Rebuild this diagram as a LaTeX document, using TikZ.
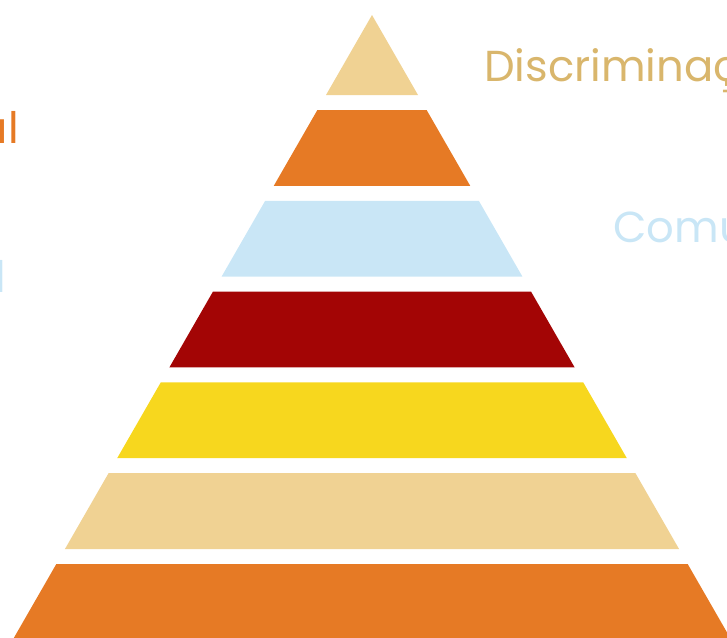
\documentclass[tikz,border=0pt]{standalone}
\usepackage{fontspec}
\usepackage{xcolor}
\usepackage{tikz}
\usetikzlibrary{positioning,calc}
\newfontfamily\popfont{Poppins}
\definecolor{PyrGold}{RGB}{240,210,147}
\definecolor{PyrOrange}{RGB}{230,122,37}
\definecolor{PyrBlue}{RGB}{201,230,246}
\definecolor{PyrRed}{RGB}{163,5,5}
\definecolor{PyrYellow}{RGB}{247,215,30}
\definecolor{LabelGold}{RGB}{217,182,108}
\begin{document}
\begin{tikzpicture}[
        x=0.75pt, y=-0.75pt,
        % Style cho nhãn: chữ mảnh, cỡ lớn
        levellabel/.style={
            inner sep=0pt,
            font=\popfont\fontsize{32.5}{39}\selectfont
        }
    ]
        % --- KHUNG ẢNH ---
        \useasboundingbox (0,0) rectangle (727,637);
        \clip (0,0) rectangle (727,637);

        % --- VẼ KIM TỰ THÁP ---
        % Đỉnh (372,15), độ dốc cạnh 0.575
        \foreach \c [count=\i from 0] in {PyrGold,PyrOrange,PyrBlue,PyrRed,PyrYellow,PyrGold,PyrOrange} {
            \pgfmathsetmacro{\yt}{\i==0 ? 15 : 110+90.8*(\i-1)}
            \pgfmathsetmacro{\yb}{95+90.8*\i}
            \fill[\c] ({372-(\yt-15)*0.575},\yt) -- ({372+(\yt-15)*0.575},\yt)
                -- ({372+(\yb-15)*0.575},\yb) -- ({372-(\yb-15)*0.575},\yb) -- cycle;
        }

        % --- VẼ NHÃN ---
        \node[levellabel, text=LabelGold, anchor=base west] (discrim) at (484,81) {Discriminação};
        \node[levellabel, text=PyrBlue, anchor=base west] (comu) at (613,242) {Comu};
        \node[levellabel, text=PyrOrange, anchor=base east] (leftal) at (19,143) {al};
        \node[levellabel, text=PyrBlue, anchor=base east] (leftl) at (6,292) {l};
    \end{tikzpicture}
\end{document}
